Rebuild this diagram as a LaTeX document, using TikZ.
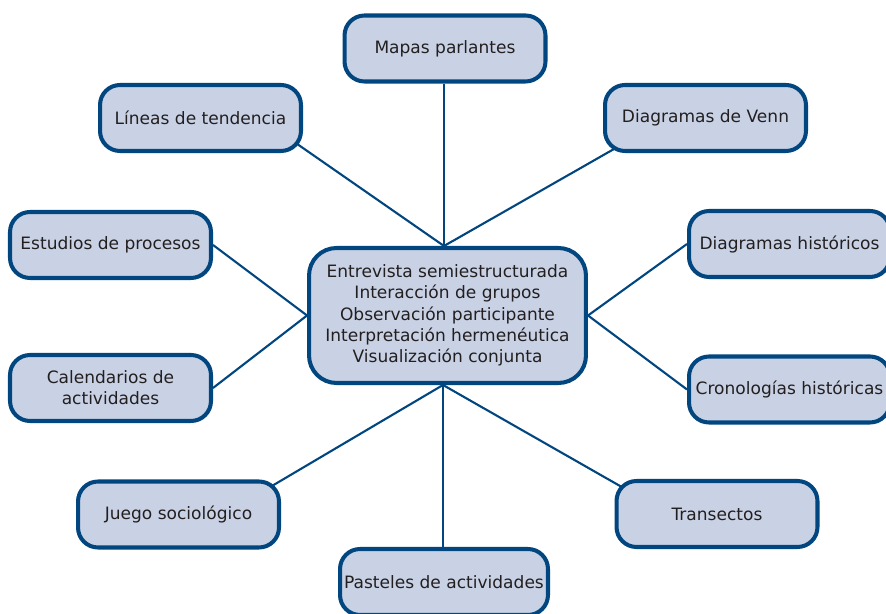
\documentclass[tikz,border=0pt]{standalone}
\usepackage{fontspec}
\setmainfont{DejaVu Sans}
\usetikzlibrary{backgrounds}
\definecolor{azul}{RGB}{2,70,128}
\definecolor{celeste}{RGB}{201,210,229}
\definecolor{texto}{RGB}{35,31,32}

\begin{document}
\begin{tikzpicture}[x=0.02cm,y=-0.02cm,
 caja/.style={draw=azul,line width=2.3pt,fill=celeste,rounded corners=0.4cm,minimum width=4.02cm,minimum height=1.32cm,inner sep=2pt,align=center,text=texto,font=\fontsize{9.7}{12.1}\selectfont},
 enlace/.style={draw=azul,line width=1.2pt}]
\useasboundingbox (0,0) rectangle (886,614);
\node[caja,minimum width=5.54cm,minimum height=2.7cm,rounded corners=0.55cm] (centre) at (447.5,315.5) {Entrevista semiestructurada\\Interacción de grupos\\Observación participante\\Interpretación hermenéutica\\Visualización conjunta};
\node[caja] (mapas) at (445,48.5) {Mapas parlantes};
\node[caja] (lineas) at (200.5,118) {Líneas de tendencia};
\node[caja] (venn) at (705.5,118) {Diagramas de Venn};
\node[caja] (estudios) at (110.5,245) {Estudios de procesos};
\node[caja] (historicos) at (789.5,244) {Diagramas históricos};
\node[caja] (calendarios) at (110.5,388) {Calendarios de\\actividades};
\node[caja] (cronologias) at (789.5,389.5) {Cronologías históricas};
\node[caja] (juego) at (178.5,514.5) {Juego sociológico};
\node[caja] (transectos) at (717,514) {Transectos};
\node[caja,minimum width=4.16cm] (pasteles) at (444,582) {Pasteles de actividades};
\coordinate (arriba) at ([xshift=-0.07cm]centre.north);
\coordinate (abajo) at ([xshift=-0.09cm]centre.south);
\begin{scope}[on background layer]
\draw[enlace] (arriba) -- (mapas.south -| arriba);
\draw[enlace] (arriba) -- ([xshift=-0.26cm,yshift=0.28cm]lineas.south east);
\draw[enlace] (arriba) -- ([xshift=0.36cm,yshift=0.16cm]venn.south west);
\draw[enlace] (centre.west) -- (estudios.east);
\draw[enlace] (centre.west) -- (calendarios.east);
\draw[enlace] (centre.east) -- (historicos.west);
\draw[enlace] (centre.east) -- (cronologias.west);
\draw[enlace] (abajo) -- ([xshift=-0.3cm,yshift=-0.2cm]juego.north east);
\draw[enlace] (abajo) -- ([xshift=0.32cm,yshift=-0.26cm]transectos.north west);
\draw[enlace] (abajo) -- (pasteles.north -| abajo);
\end{scope}
\end{tikzpicture}
\end{document}
